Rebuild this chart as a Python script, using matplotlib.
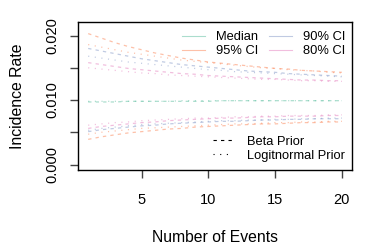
# Incidence rate credible intervals by number of events, Beta vs Logitnormal prior
import numpy as np
import matplotlib
matplotlib.use('Agg')
import matplotlib.pyplot as plt
from matplotlib.lines import Line2D

plt.rcParams['font.family'] = ['Liberation Sans', 'DejaVu Sans']
plt.rcParams['lines.scale_dashes'] = False

events = np.arange(1, 21)

# Beta prior (dashed)
beta_median = [0.0097, 0.0097, 0.0097, 0.0098, 0.0098, 0.0098, 0.0098, 0.0098, 0.0098, 0.0098,
               0.0099, 0.0099, 0.0099, 0.0099, 0.0099, 0.0099, 0.0099, 0.0099, 0.0099, 0.0099]
beta_hi95 = [0.0203, 0.0196, 0.0189, 0.0183, 0.0178, 0.0173, 0.0169, 0.0165, 0.0162, 0.0159,
             0.0157, 0.0155, 0.0153, 0.0151, 0.0149, 0.0148, 0.0146, 0.0145, 0.0144, 0.0143]
beta_hi90 = [0.0180, 0.0176, 0.0172, 0.0168, 0.0164, 0.0161, 0.0158, 0.0155, 0.0153, 0.0151,
             0.0149, 0.0147, 0.0145, 0.0144, 0.0143, 0.0141, 0.0140, 0.0139, 0.0138, 0.0137]
beta_hi80 = [0.0158, 0.0155, 0.0152, 0.0149, 0.0147, 0.0145, 0.0143, 0.0141, 0.0140, 0.0138,
             0.0137, 0.0136, 0.0135, 0.0134, 0.0133, 0.0132, 0.0131, 0.0131, 0.0130, 0.0130]
beta_lo80 = [0.0056, 0.0059, 0.0061, 0.0063, 0.0065, 0.0066, 0.0068, 0.0069, 0.0070, 0.0071,
             0.0072, 0.0072, 0.0073, 0.0074, 0.0074, 0.0075, 0.0075, 0.0075, 0.0076, 0.0076]
beta_lo90 = [0.0051, 0.0054, 0.0056, 0.0058, 0.0060, 0.0061, 0.0063, 0.0064, 0.0065, 0.0066,
             0.0067, 0.0067, 0.0068, 0.0069, 0.0069, 0.0070, 0.0070, 0.0071, 0.0071, 0.0071]
beta_lo95 = [0.0039, 0.0043, 0.0046, 0.0049, 0.0051, 0.0053, 0.0055, 0.0056, 0.0058, 0.0059,
             0.0060, 0.0061, 0.0062, 0.0063, 0.0063, 0.0064, 0.0065, 0.0065, 0.0066, 0.0066]

# Logitnormal prior (dotted)
logit_median = [0.0098, 0.0098, 0.0098, 0.0098, 0.0098, 0.0098, 0.0098, 0.0099, 0.0099, 0.0099,
                0.0099, 0.0099, 0.0099, 0.0099, 0.0099, 0.0099, 0.0099, 0.0099, 0.0099, 0.0099]
logit_hi95 = [0.0186, 0.0182, 0.0178, 0.0174, 0.0171, 0.0168, 0.0165, 0.0162, 0.0160, 0.0158,
              0.0156, 0.0154, 0.0152, 0.0150, 0.0149, 0.0147, 0.0146, 0.0145, 0.0143, 0.0142]
logit_hi90 = [0.0168, 0.0165, 0.0162, 0.0159, 0.0157, 0.0155, 0.0153, 0.0151, 0.0149, 0.0147,
              0.0146, 0.0144, 0.0143, 0.0142, 0.0141, 0.0140, 0.0139, 0.0138, 0.0137, 0.0136]
logit_hi80 = [0.0150, 0.0148, 0.0146, 0.0144, 0.0142, 0.0141, 0.0139, 0.0138, 0.0137, 0.0136,
              0.0135, 0.0134, 0.0133, 0.0132, 0.0132, 0.0131, 0.0130, 0.0130, 0.0129, 0.0129]
logit_lo80 = [0.0061, 0.0063, 0.0065, 0.0066, 0.0068, 0.0069, 0.0070, 0.0071, 0.0072, 0.0072,
              0.0073, 0.0074, 0.0074, 0.0075, 0.0075, 0.0076, 0.0076, 0.0076, 0.0077, 0.0077]
logit_lo90 = [0.0053, 0.0056, 0.0058, 0.0060, 0.0062, 0.0063, 0.0064, 0.0065, 0.0066, 0.0067,
              0.0068, 0.0068, 0.0069, 0.0069, 0.0070, 0.0070, 0.0071, 0.0071, 0.0072, 0.0072]
logit_lo95 = [0.0047, 0.0050, 0.0052, 0.0054, 0.0056, 0.0057, 0.0058, 0.0059, 0.0060, 0.0061,
              0.0062, 0.0063, 0.0063, 0.0064, 0.0065, 0.0065, 0.0066, 0.0066, 0.0067, 0.0067]

col_median = '#66C2A5'
col_95 = '#FC8D62'
col_90 = '#8DA0CB'
col_80 = '#E78AC3'

dash = (0, (2.4, 3.0))
dot = (0, (0.8, 4.0))

fig = plt.figure(figsize=(3.74, 2.49), dpi=100)
ax = fig.add_axes([0.2086, 0.3173, 0.9412 - 0.2086, 0.9116 - 0.3173])

series = [
    (beta_median, col_median, dash), (logit_median, col_median, dot),
    (beta_hi95, col_95, dash), (logit_hi95, col_95, dot),
    (beta_lo95, col_95, dash), (logit_lo95, col_95, dot),
    (beta_hi90, col_90, dash), (logit_hi90, col_90, dot),
    (beta_lo90, col_90, dash), (logit_lo90, col_90, dot),
    (beta_hi80, col_80, dash), (logit_hi80, col_80, dot),
    (beta_lo80, col_80, dash), (logit_lo80, col_80, dot),
]
for vals, c, ls in series:
    ax.plot(events, vals, color=c, linestyle=ls, lw=0.9, alpha=0.55)

ax.set_xlim(0.24, 20.76)
ax.set_ylim(-0.00085, 0.0221)
ax.set_xticks([5, 10, 15, 20])
ax.set_yticks([0.000, 0.005, 0.010, 0.015, 0.020])
ax.set_yticklabels(['0.000', '', '0.010', '', '0.020'], rotation=90, va='center')
ax.tick_params(labelsize=10.5, length=5.8, width=1, color='#444444')
ax.tick_params(axis='y', pad=7.5)
ax.tick_params(axis='x', pad=11)
for s in ax.spines.values():
    s.set_linewidth(1)
ax.set_xlabel('Number of Events', fontsize=11.3, labelpad=16.5)
ax.set_ylabel('Incidence Rate', fontsize=11.4, labelpad=15)

h1 = [Line2D([], [], color=c, lw=0.8, alpha=0.55) for c in [col_median, col_95, col_90, col_80]]
leg1 = ax.legend(h1, ['Median', '95% CI', '90% CI', '80% CI'], ncol=2, frameon=False,
                 loc='upper right', bbox_to_anchor=(0.994, 0.974), borderaxespad=0,
                 fontsize=9.3, handlelength=1.75, columnspacing=0.85,
                 handletextpad=0.85, labelspacing=0.15)
ax.add_artist(leg1)
h2 = [Line2D([], [], color='black', lw=0.8, linestyle=dash),
      Line2D([], [], color='black', lw=0.8, linestyle=dot)]
ax.legend(h2, ['Beta Prior', 'Logitnormal Prior'], frameon=False,
          loc='lower right', bbox_to_anchor=(0.994, 0.02), borderaxespad=0,
          fontsize=9.3, handlelength=1.5, handletextpad=1.15, labelspacing=0.15)

fig.savefig('out.png', dpi=100)
